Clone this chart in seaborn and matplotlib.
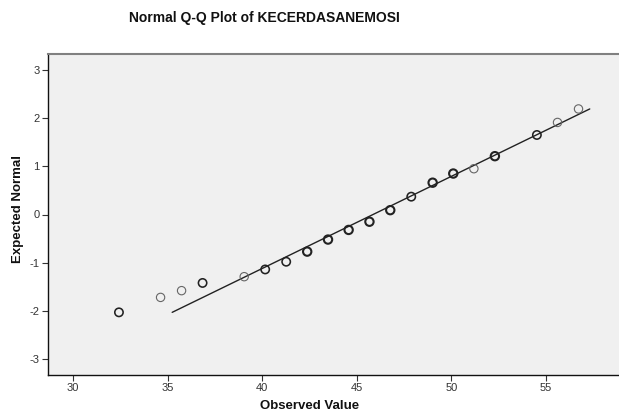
import matplotlib
matplotlib.use('Agg')
import matplotlib.pyplot as plt
import seaborn as sns
import numpy as np
import pandas as pd

# --- DATA (in axis units) ---
observed = [32.43, 34.63, 35.74, 36.85, 39.05, 40.16, 41.27, 42.38, 43.48, 44.57,
            45.67, 46.77, 47.88, 49.01, 50.10, 51.19, 52.30, 54.52, 55.61, 56.72]
expected = [-2.03, -1.72, -1.58, -1.42, -1.29, -1.14, -0.98, -0.77, -0.52, -0.32,
            -0.15, 0.09, 0.37, 0.66, 0.85, 0.95, 1.21, 1.65, 1.91, 2.19]
# how many cases share each point (duplicates look darker)
freq = [2, 1, 1, 2, 1, 2, 2, 3, 3, 3, 3, 3, 2, 3, 3, 1, 3, 2, 1, 1]
line_mean = 45.86
line_sd = 5.23
x_ticks = [30, 35, 40, 45, 50, 55]
y_ticks = [-3, -2, -1, 0, 1, 2, 3]

df = pd.DataFrame({'observed': observed, 'expected': expected, 'freq': freq})

sns.set_style('white')
plt.rcParams['font.family'] = ['Liberation Sans', 'DejaVu Sans']
plt.rcParams['axes.unicode_minus'] = False

fig = plt.figure(figsize=(6.19, 4.17), dpi=100)
ax = fig.add_axes([48 / 619, 42 / 417, 571 / 619, 321 / 417])
ax.set_facecolor('#f0f0f0')

# reference line: expected = (x - mean) / sd over the expected range
z_line = np.array([min(expected), max(expected)])
line_df = pd.DataFrame({'x': line_mean + line_sd * z_line, 'z': z_line})
sns.lineplot(data=line_df, x='x', y='z', color='#222222', linewidth=1.0, ax=ax)

for f, sub in df.groupby('freq'):
    sns.scatterplot(data=sub, x='observed', y='expected', ax=ax, s=36,
                    facecolor='none', marker='o',
                    edgecolor='#666666' if f == 1 else '#222222',
                    linewidth=0.8 + 0.35 * (f - 1), zorder=3)

ax.set_xlim(28.68, 58.86)
ax.set_ylim(-3.33, 3.33)
ax.set_xticks(x_ticks)
ax.set_yticks(y_ticks)
ax.tick_params(axis='both', direction='out', length=4, width=0.8, color='#333333',
               labelsize=8, labelcolor='#333333', pad=2)
ax.tick_params(left=True, bottom=True)
ax.set_xlabel('')
ax.set_ylabel('')

for side in ['left', 'bottom']:
    ax.spines[side].set_color('#111111')
    ax.spines[side].set_linewidth(1.0)
ax.spines['top'].set_color('#808080')
ax.spines['top'].set_linewidth(1.5)
ax.spines['right'].set_visible(False)

fig.text(264 / 619, 1 - 18 / 417, 'Normal Q-Q Plot of KECERDASANEMOSI',
         ha='center', va='center', fontsize=10, fontweight='bold', color='#111111')
fig.text(310 / 619, 1 - 406 / 417, 'Observed Value', ha='center', va='center',
         fontsize=9.5, fontweight='bold', color='#111111')
fig.text(18 / 619, 1 - 209 / 417, 'Expected Normal', ha='center', va='center',
         rotation=90, fontsize=9.5, fontweight='bold', color='#111111')

fig.savefig('out.png', dpi=100, facecolor='white')
